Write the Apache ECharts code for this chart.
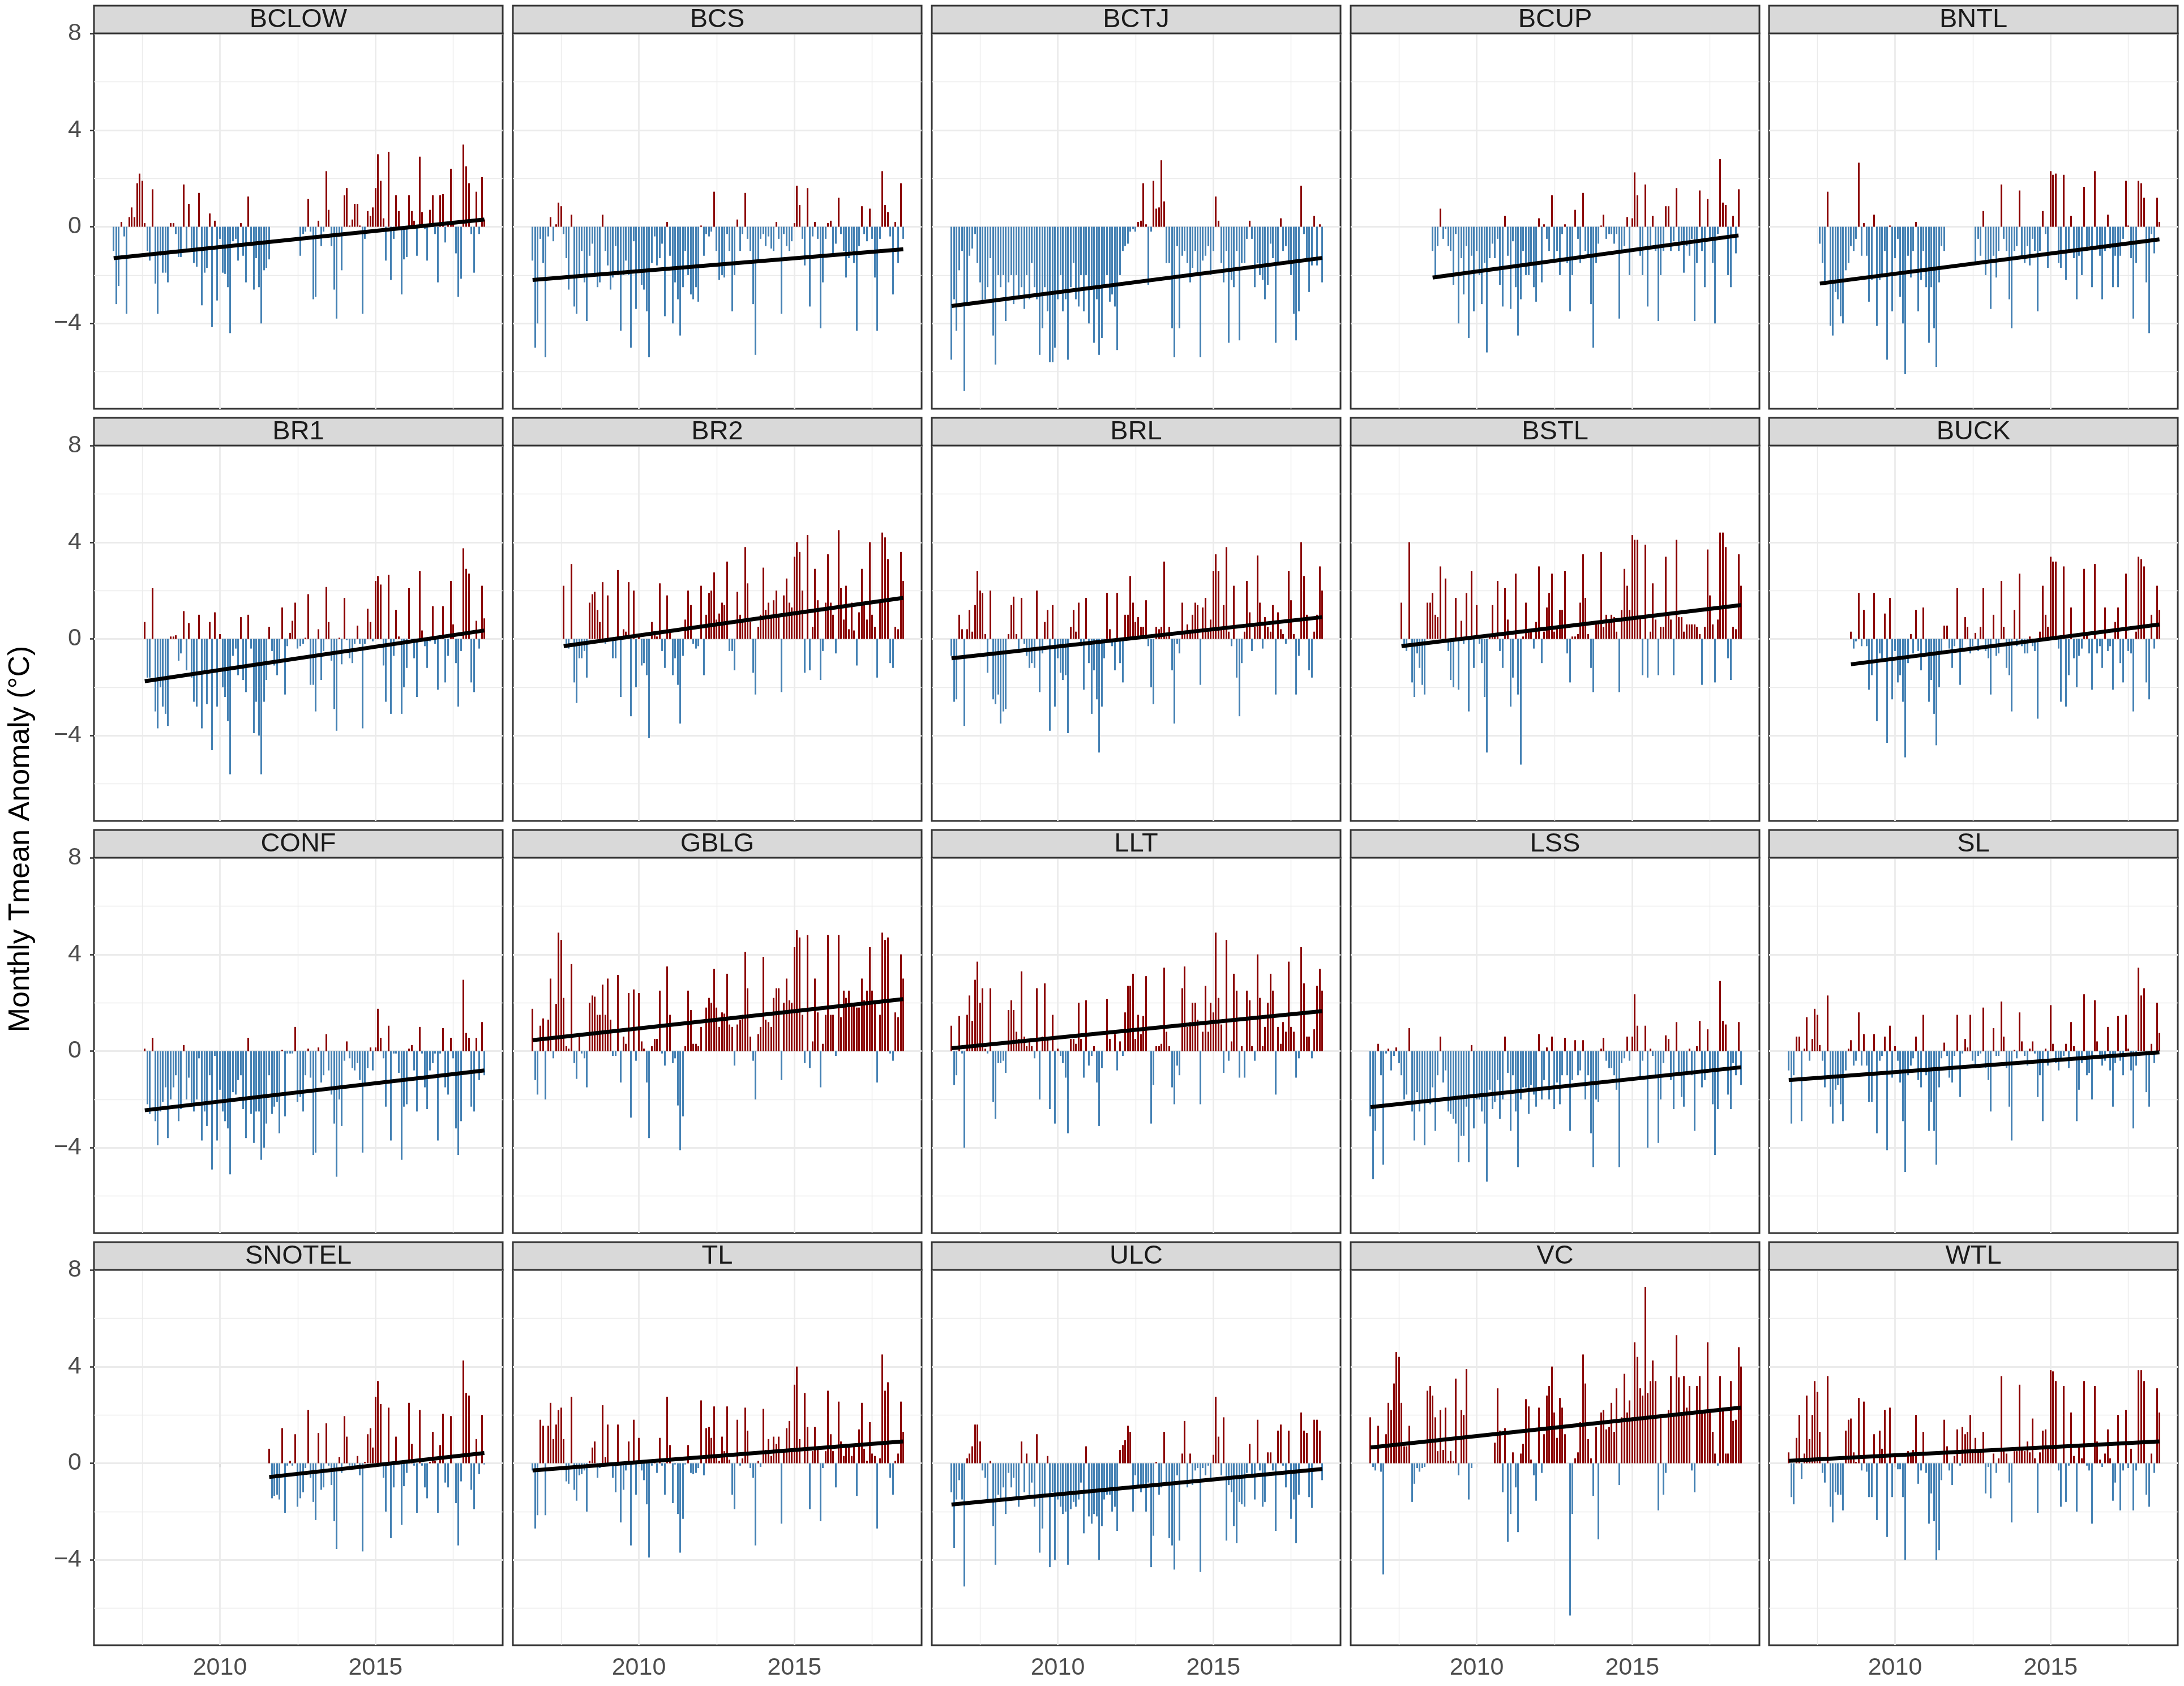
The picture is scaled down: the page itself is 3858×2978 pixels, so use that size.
<!DOCTYPE html>
<html>
<head>
<meta charset="utf-8">
<script src="https://cdn.jsdelivr.net/npm/echarts@6/dist/echarts.min.js"></script>
<style>
html,body{margin:0;padding:0;background:#fff}
#chart{width:3858px;height:2978px}
</style>
</head>
<body>
<div id="chart"></div>
<script>
// monthly Tmean anomaly per site, one value per month from the start month (null = missing)
const siteNames = ['BCLOW','BCS','BCTJ','BCUP','BNTL','BR1','BR2','BRL','BSTL','BUCK',
  'CONF','GBLG','LLT','LSS','SL','SNOTEL','TL','ULC','VC','WTL'];
const siteStart = ['2006-08','2006-08','2006-08','2008-08','2007-08','2007-08','2007-08','2006-08','2007-08','2008-08',
  '2007-08','2006-08','2006-08','2006-08','2006-08','2011-08','2006-08','2006-08','2006-08','2006-08'];
// fitted trend line, value at first and last month
const trendStart = [-1.3,-2.2,-3.28,-2.1,-2.35,-1.75,-0.3,-0.8,-0.3,-1.05,-2.45,0.45,0.12,-2.32,-1.2,-0.57,-0.3,-1.71,0.65,0.1];
const trendEnd = [0.3,-0.93,-1.29,-0.36,-0.52,0.35,1.7,0.9,1.4,0.6,-0.8,2.15,1.65,-0.67,-0.05,0.42,0.9,-0.24,2.3,0.9];

const yTicks = [-4, 0, 4, 8];
const yMinorTicks = [-6, -2, 2, 6];
const xTicks = [2010, 2015];
const xMinorTicks = [2007.5, 2012.5, 2017.5];

const BCLOW = [-1.0,-3.2,-2.45,0.2,-0.4,-3.6,0.4,0.8,0.4,1.8,2.2,1.9,0.15,-1.0,-1.4,1.55,-2.35,-3.6,-1.2,-1.9,
  -1.9,-2.3,0.15,0.15,-0.3,-1.25,-1.25,1.75,-0.9,0.95,-1.0,-1.5,-1.65,1.4,-3.25,-1.9,-1.7,0.55,-4.15,0.25,
  -3.05,-0.5,-1.9,-1.95,-2.5,-4.4,-0.6,-0.5,-1.4,0.15,-1.2,-2.3,1.25,-0.8,-2.6,-1.3,-2.5,-4.0,-1.8,-1.7,
  -1.35,null,null,null,null,null,null,null,null,null,null,null,
  -1.2,-0.3,-0.2,1.15,-0.2,-3.0,-2.9,0.25,-0.8,-0.2,2.3,0.7,-0.8,-2.6,-3.8,-0.3,-1.8,1.3,1.6,0.05,
  0.3,0.95,0.95,0.05,-3.6,-0.5,0.65,0.45,0.8,1.6,3.0,1.9,0.35,-1.4,3.1,-2.2,-0.5,1.3,0.65,-2.8,
  -1.35,-1.25,1.3,0.65,0.25,-1.2,2.9,0.6,-0.1,-1.4,0.7,1.3,-0.3,-2.3,1.3,1.35,-0.65,0.1,2.4,0.1,
  -1.1,-2.9,-2.15,3.4,2.5,1.8,-0.3,-1.9,1.45,-0.3,2.05,0.3];
const BCS = [-1.4,-5.0,-4.0,-0.5,-1.5,-5.4,-0.4,0.4,-0.6,0.1,1.0,0.85,-0.3,-1.3,-2.6,0.5,-3.3,-3.6,-2.0,-1.0,
  -2.3,-3.9,-1.2,-0.7,-2.0,-2.5,-2.3,0.5,-1.0,-1.6,-2.6,-2.1,-0.8,-2.0,-4.3,-2.0,-1.4,-2.0,-5.0,-0.6,
  -3.4,-1.8,-2.4,-2.6,-3.5,-5.4,-1.5,-0.4,-1.6,-1.3,-0.7,-3.7,0.2,-1.2,-4.0,-2.3,-3.0,-4.5,-2.5,-1.0,
  -2.0,-2.8,-3.0,-2.5,-3.1,0.05,-1.2,-0.3,-0.4,-0.2,1.45,-1.0,-2.2,-2.0,-2.1,-0.3,-1.0,-3.5,-2.0,0.3,
  -1.0,-0.3,1.4,-0.5,-1.0,-3.2,-5.3,-1.5,-0.5,-0.3,-0.8,-0.4,-0.9,-1.0,0.2,-0.5,-3.6,-0.3,-0.8,-1.0,
  -0.6,0.15,1.7,0.9,-0.5,-1.6,1.6,-3.3,-0.4,0.2,-0.5,-4.2,-2.3,-0.5,0.15,0.25,-1.2,-0.7,1.2,-0.3,
  -1.0,-2.1,-1.3,-1.0,-1.5,-4.3,-0.8,0.85,-0.3,-0.6,0.75,-0.5,-2.1,-4.3,-0.5,2.3,0.9,0.6,-0.4,-2.8,
  0.2,-1.5,1.8,-0.5];
const BCTJ = [-5.5,-3.0,-4.3,-1.8,-1.0,-6.8,-3.2,-1.2,-0.9,-0.3,-1.5,-2.3,-3.2,-3.0,-2.5,-1.3,-4.5,-5.7,-2.0,-2.5,
  -2.0,-3.9,-2.3,-2.0,-3.2,-2.0,-3.0,-2.5,-3.4,-2.0,-3.0,-1.5,-2.5,-3.0,-5.3,-4.2,-2.5,-3.5,-5.6,-5.6,
  -5.0,-3.0,-2.0,-3.5,-3.0,-5.5,-2.5,-1.5,-3.0,-3.3,-2.0,-3.5,-2.0,-4.0,-2.5,-4.8,-3.0,-5.3,-4.6,-2.5,
  -2.0,-3.1,-2.8,-3.3,-5.1,-2.0,-1.0,-0.8,-0.7,-0.2,-0.1,-0.2,0.2,0.25,1.8,0.1,-2.4,-0.2,1.9,0.75,
  0.8,2.75,1.05,-1.5,-1.5,-4.2,-5.4,-0.8,-4.2,-1.2,-1.0,-1.5,-2.3,-1.7,-1.0,-2.0,-5.4,-1.4,-1.2,-0.8,
  -2.0,-1.0,1.25,0.25,-1.5,-2.3,-1.0,-4.8,-2.2,-2.5,-1.0,-4.7,-1.5,-1.5,-0.5,0.25,-0.5,-2.5,-1.5,-2.0,
  -2.2,-3.0,-2.4,-0.7,-1.3,-4.8,-1.6,0.35,-1.0,-0.8,-1.5,-2.0,-3.6,-4.7,-3.5,1.7,-0.3,-1.3,-2.7,-1.6,
  0.45,-1.6,0.1,-2.3];
const BCUP = [-1.0,-2.0,-0.8,0.75,-0.5,-0.1,-0.8,-1.0,-2.4,-0.3,-4.0,-1.3,-2.8,-0.8,-4.6,-1.2,-3.5,-1.0,-2.0,-3.2,
  -1.5,-5.2,-1.3,-0.7,-1.3,-0.5,-2.4,-3.3,0.45,-1.2,-3.4,-0.6,-2.5,-4.5,-3.0,-1.0,-2.0,-2.0,-1.5,-2.5,
  -3.1,0.35,-2.3,0.1,-0.5,-1.0,1.3,-1.5,-1.0,-2.0,-0.3,0.1,-1.5,-3.5,-2.0,0.7,-0.5,-1.5,1.4,-1.0,
  -1.2,-3.2,-5.0,-1.5,-0.7,0.05,0.5,-0.5,-0.3,-0.3,-0.7,-0.3,-3.8,-1.0,-0.8,0.4,-2.0,0.35,2.25,1.3,
  -1.2,-2.0,1.75,-3.3,-0.8,0.45,-1.0,-3.9,-2.0,-1.0,0.85,0.85,-1.0,-0.6,1.6,-1.0,-0.7,-1.9,-0.8,-1.2,
  -0.5,-3.9,-1.5,1.5,-1.0,-2.5,1.15,-0.6,-1.5,-4.0,-0.3,2.8,1.0,0.9,-2.0,-2.5,0.45,-1.1,1.55];
const BNTL = [-0.7,-1.5,-2.4,1.45,-4.1,-4.5,-2.7,-3.0,-3.7,-4.0,-1.8,-1.5,-0.8,-1.0,-0.5,2.65,-1.2,0.15,-1.2,-3.1,
  -2.2,0.5,-4.1,-2.2,-2.1,-1.0,-5.5,0.05,-3.5,-1.3,-0.5,-2.9,-4.0,-6.1,-1.2,-2.1,-1.0,0.2,-3.5,-2.2,
  -1.0,-2.5,-4.8,-2.5,-4.2,-5.8,-2.3,-0.8,-1.0,null,null,null,null,null,null,null,null,null,null,null,
  -1.5,-0.5,-1.2,0.65,-2.0,-1.5,-3.4,-1.2,-2.1,-1.0,1.75,-0.5,-1.0,-3.0,-4.2,-1.0,-0.8,1.5,-1.2,-1.5,
  -0.8,-1.6,-0.5,-1.0,-3.5,-1.0,0.65,-0.3,-1.7,2.3,2.15,2.2,-1.5,-1.7,2.15,-2.2,-1.0,0.45,-1.3,-3.0,
  -1.2,-2.0,1.65,-1.0,-0.8,-2.5,2.3,-0.8,-1.2,-3.0,-1.0,0.5,-0.9,-2.5,-1.2,-2.5,-1.2,-0.5,1.9,0.05,
  -1.3,-3.8,-1.5,1.9,1.8,1.2,-2.3,-4.4,-0.3,-1.1,1.2,0.2];
const BR1 = [0.7,-1.6,-1.6,2.1,-3.0,-3.7,-2.0,-2.8,-3.1,-3.6,0.1,0.1,0.15,-0.9,-0.6,1.15,-1.3,0.65,-1.6,-2.6,
  -2.8,1.0,-3.7,-1.3,-2.7,0.7,-4.6,1.1,-2.8,0.2,-2.0,-2.4,-3.4,-5.6,-0.7,-0.4,-1.5,0.9,-1.7,-2.2,
  1.0,-0.4,-3.9,-2.6,-4.0,-5.6,-2.6,-1.7,0.5,-0.5,-1.1,-1.5,-1.0,1.3,-2.3,-0.3,0.25,0.75,1.5,-0.4,
  -0.3,-0.2,0.05,1.85,-1.9,-1.9,-3.0,0.4,-1.7,-0.5,2.15,0.7,-0.9,-2.9,-3.8,0.05,-1.05,1.7,-0.05,-0.8,
  -1.0,-0.2,0.55,-0.2,-3.7,-0.2,1.25,0.7,-0.1,2.4,2.6,2.25,-1.1,-2.6,2.65,-3.1,-0.7,1.2,0.1,-3.1,
  -2.0,-1.2,2.1,-0.1,-0.8,-2.4,2.8,0.35,-0.3,-1.2,-0.1,1.35,-0.2,-2.1,0.1,1.35,-1.8,-0.7,2.4,0.6,
  -1.0,-2.8,-0.5,3.75,2.9,2.7,-1.8,-2.2,0.75,-0.4,2.2,0.85];
const BR2 = [2.2,-0.3,-0.4,3.1,-1.8,-2.65,-0.8,-0.8,-0.5,-1.6,1.5,1.85,1.95,1.2,0.7,2.35,-0.2,1.8,-0.1,-0.8,
  -0.8,2.85,-2.4,0.4,0.3,2.35,-3.2,2.0,-2.0,0.2,-1.1,-1.0,-1.5,-4.1,0.7,0.3,0.1,2.3,-0.5,-1.2,
  1.8,0.3,-1.5,-0.8,-1.9,-3.5,-0.7,0.8,2.0,1.4,-0.2,-0.4,-0.3,2.2,-1.5,1.0,1.9,2.0,2.75,0.8,
  1.05,1.5,1.4,3.2,-0.5,-0.5,-1.3,1.95,1.0,0.7,3.8,2.3,0.7,-1.4,-2.3,0.5,1.0,2.95,1.2,1.5,
  1.0,1.6,2.0,1.0,-2.2,1.8,2.5,1.5,1.3,3.4,4.0,3.6,2.0,-1.4,4.3,-1.3,0.5,2.9,1.6,-1.7,
  -0.5,1.5,3.5,1.5,1.0,-0.6,4.5,2.1,0.8,2.2,0.4,1.5,0.35,-1.1,1.1,2.9,1.5,0.8,4.0,1.0,
  0.5,-1.6,1.6,4.4,4.2,3.3,-1.0,-1.2,0.5,0.4,3.6,2.4];
const BRL = [-0.7,-2.6,-2.5,1.0,0.4,-3.6,0.4,1.2,0.3,1.4,2.8,2.0,1.9,0.2,-1.4,2.0,-2.5,-2.7,-2.3,-3.5,
  -3.0,-2.9,0.2,1.4,1.75,0.2,-0.5,1.7,-0.2,-0.7,-1.2,-1.0,-1.2,2.0,-2.2,-0.6,0.7,1.2,-3.8,1.4,
  -2.8,-0.8,-1.4,-1.7,-1.5,-3.9,0.5,1.2,0.3,1.5,-0.3,-2.1,1.7,-1.0,-3.1,-1.3,-2.5,-4.7,-2.8,-0.8,
  1.9,0.4,-0.3,-1.3,1.9,-1.0,-1.8,1.0,1.0,2.6,1.5,0.7,0.9,0.5,0.5,1.6,-0.3,-2.0,-2.7,0.5,
  0.4,0.5,3.2,0.1,0.5,-1.3,-3.5,-0.2,-0.6,1.5,0.2,0.6,0.3,1.0,1.5,1.4,-1.9,1.3,1.7,0.3,
  0.8,2.8,3.5,2.8,0.5,1.4,3.8,0.3,-0.3,2.2,-1.6,-3.2,-1.0,0.3,2.4,1.1,-0.5,0.5,3.45,1.5,
  -0.4,0.9,0.5,0.3,1.4,-2.3,1.1,0.4,0.2,-0.2,2.8,1.6,0.2,-2.3,-0.7,4.0,2.6,1.0,-1.3,-1.6,
  0.3,1.0,3.0,2.0];
const BSTL = [1.5,-0.3,-0.5,4.0,-1.8,-2.4,-0.6,-1.2,-1.9,-2.3,1.5,1.5,1.9,1.0,0.9,3.0,-0.1,2.5,-0.5,-1.7,
  -2.0,1.7,-2.1,0.75,-0.2,1.9,-3.0,2.8,-1.2,1.4,-0.2,-1.0,-2.4,-4.7,0.2,1.4,0.2,2.4,-0.5,-1.2,
  2.1,0.8,-2.8,-1.6,2.7,-2.3,-5.2,0.1,1.5,0.3,0.3,-0.4,0.7,3.0,-1.0,0.3,1.3,1.9,2.7,0.3,
  0.5,1.2,1.2,2.8,-0.6,-1.8,0.1,0.1,0.2,1.5,3.5,1.7,0.2,-1.2,-2.2,0.6,0.6,3.6,0.5,1.0,
  0.8,1.0,0.9,0.3,-2.2,1.2,2.9,2.2,1.2,4.3,4.1,4.1,0.9,-1.5,3.9,-1.6,0.3,2.3,0.8,-1.5,
  0.5,0.5,3.4,1.0,0.8,-1.5,4.1,0.9,0.9,0.3,0.6,0.6,0.6,0.6,0.5,0.2,-1.9,0.5,3.7,1.8,
  0.6,-1.8,0.8,4.4,4.4,3.8,-0.8,-1.7,0.5,0.4,3.5,2.2];
const BUCK = [0.3,-0.4,-0.1,1.9,-0.3,1.2,-0.3,-2.1,-1.5,1.9,-3.4,-0.6,-0.8,1.05,-4.3,1.7,-2.5,-0.5,-1.8,-1.5,
  -2.6,-4.9,-1.0,0.2,-0.6,1.2,-0.5,-1.3,1.3,-0.7,-2.6,-1.7,-3.1,-4.4,-2.0,-0.5,0.55,0.55,-0.4,-1.2,
  -0.3,2.1,-1.9,-0.5,0.9,0.5,-0.6,-0.3,0.25,-0.5,0.5,2.1,-0.5,-0.8,-2.3,1.0,-0.7,-0.6,2.4,0.5,
  -1.2,-1.5,-3.0,1.2,-0.3,2.7,-0.3,-0.6,-0.6,0.1,-0.3,-0.5,-3.3,0.3,2.2,1.0,0.5,3.4,3.2,3.2,
  -0.4,-2.6,3.0,-2.8,-1.5,1.3,-0.8,-2.0,-0.7,-0.4,2.9,0.2,-0.6,-2.1,3.1,-0.6,-0.3,-1.2,1.3,-0.5,
  -0.3,-2.1,0.7,1.3,-1.0,-1.8,2.7,-0.5,-0.6,-3.0,0.3,3.4,3.3,3.0,-1.8,-2.5,1.0,-0.4,2.2,1.2];
const CONF = [0.1,-2.2,-2.6,0.55,-2.9,-3.9,-2.5,-2.1,-1.5,-3.6,-2.0,-1.5,-1.0,-2.9,-2.4,0.25,-2.0,-1.1,-2.3,-2.5,
  -2.0,-0.3,-3.7,-2.5,-3.1,-1.0,-4.9,-0.2,-3.7,-1.6,-2.5,-2.9,-3.2,-5.1,-1.7,-1.8,-1.2,-1.0,-2.4,-3.6,
  0.55,-2.6,-3.8,-2.5,-2.5,-4.5,-4.0,-3.0,-1.0,-2.6,-2.3,-2.1,-3.4,0.05,-2.7,-0.1,-0.1,-0.1,1.0,-2.1,
  -1.9,-2.5,-1.0,0.1,-1.1,-4.3,-4.2,0.15,-1.3,-1.0,0.7,-0.8,-1.8,-3.0,-5.2,-2.0,-3.1,-0.4,0.4,-0.3,
  -0.7,-0.8,-0.5,-1.2,-4.2,-1.3,-0.7,0.15,-0.8,0.15,1.75,0.55,-0.3,-2.3,1.05,-3.7,-0.1,-0.1,-0.9,-4.5,
  -2.3,-2.2,0.1,0.25,-0.8,-2.5,1.0,-0.1,-1.5,-2.4,-0.8,-0.5,-0.1,-3.7,-0.1,0.95,-1.5,-1.8,0.55,-0.3,
  -3.2,-4.3,-2.9,2.95,0.75,0.55,-2.3,-2.5,0.55,-1.2,1.2,-1.0];
const GBLG = [1.75,-1.2,-1.8,1.05,1.35,-2.0,1.3,3.0,-0.3,1.95,4.9,4.6,2.2,0.2,0.1,3.6,-0.5,-1.15,0.7,-0.1,
  -0.3,-1.5,2.0,2.3,2.25,1.5,1.5,2.75,1.5,3.0,1.3,-0.2,-0.2,3.15,-1.3,0.6,0.3,2.4,-2.75,2.55,
  -0.4,2.4,0.4,0.1,-1.3,-3.6,0.2,0.5,0.5,2.5,-0.1,-0.6,3.5,1.5,-0.5,-0.3,-2.25,-4.1,-2.7,0.2,
  2.5,1.7,0.3,0.3,0.2,1.0,0.0,1.8,2.2,2.0,3.4,1.8,1.0,1.6,1.55,3.2,1.1,1.0,-0.6,1.1,
  1.3,1.5,4.1,2.6,0.6,-0.4,-2.0,0.7,1.0,3.9,1.3,1.2,1.0,2.2,2.6,2.6,-1.2,2.0,3.0,2.1,
  2.0,4.3,5.0,4.7,1.5,-0.5,4.8,-0.7,0.4,3.0,1.6,-1.5,0.3,1.5,4.8,1.5,1.5,-0.2,4.8,1.4,
  2.5,2.2,2.5,2.0,1.9,1.8,1.8,3.0,2.1,2.5,4.3,2.5,2.0,-1.3,1.5,4.9,4.6,4.7,-0.1,-0.4,
  1.6,1.4,4.0,3.0];
const LLT = [1.05,-1.4,-1.0,1.45,-0.1,-4.0,1.5,2.3,1.25,2.95,3.7,2.0,2.6,0.1,-0.1,2.6,-2.1,-2.8,-0.5,-0.5,
  -0.4,-0.9,1.7,2.1,1.7,0.8,0.5,3.3,0.6,0.2,0.5,0.2,-0.3,2.6,-2.0,0.6,2.8,0.5,-2.4,1.5,
  -3.0,0.1,-0.2,-0.5,-1.1,-3.4,0.5,0.5,0.3,2.0,0.5,-1.1,2.1,-0.6,-0.2,0.2,-1.3,-3.1,-0.7,0.0,
  2.15,0.5,0.0,0.7,-0.8,0.4,-0.2,1.6,2.7,2.7,3.2,0.5,1.5,0.7,1.45,3.1,0.0,-3.0,-1.4,0.2,
  0.2,0.3,3.45,0.8,0.2,-1.5,-2.2,-0.6,-1.0,2.6,3.5,1.0,1.2,2.0,2.0,1.3,-2.2,0.8,2.7,0.8,
  2.0,1.6,4.9,2.2,1.1,-0.9,4.6,-0.4,0.4,3.2,2.5,-1.1,0.2,-1.1,2.5,2.1,0.2,-0.4,4.0,2.2,
  0.2,1.0,2.0,3.2,2.5,-1.8,1.0,0.3,1.2,0.8,3.7,1.0,0.8,-1.1,-0.3,4.3,2.8,0.6,0.6,-0.3,
  0.9,2.7,3.4,2.5];
const LSS = [-2.7,-5.3,-3.3,0.3,-1.0,-4.7,-0.1,0.1,-0.8,-0.2,0.15,-0.5,-1.0,-2.0,-1.8,0.95,-2.5,-3.7,-1.7,-2.5,
  -2.1,-3.9,-2.0,-2.2,-1.5,-3.3,-1.0,0.6,-1.3,-0.8,-2.5,-2.6,-2.8,-3.0,-4.6,-3.5,-3.5,-2.3,-4.6,0.25,
  -3.2,-2.0,-2.0,-2.5,-3.0,-5.4,-1.6,-2.4,-2.1,-1.2,-2.8,-2.0,0.6,-0.9,-3.3,-1.0,-2.5,-4.8,-2.0,-1.5,
  -1.5,-2.6,-1.4,-1.8,-2.3,0.7,-2.0,-1.2,0.15,-2.0,0.6,-2.4,-1.3,-2.2,-1.0,0.55,-1.0,-3.3,-1.2,0.45,
  -1.0,-0.8,0.45,-2.0,-1.0,-3.4,-4.8,-2.0,-2.1,0.1,0.55,-0.4,-0.7,-0.7,-1.0,-1.6,-4.8,-0.5,-0.3,0.6,
  -0.4,0.6,2.35,1.05,-1.2,-0.4,1.05,-4.0,0.1,-0.2,-1.0,-3.8,-2.0,-0.5,0.65,0.5,-1.2,-2.4,1.2,-1.0,
  -1.9,-2.3,-1.0,0.1,-1.0,-3.3,0.2,1.25,-1.5,-1.2,0.9,-0.8,-2.2,-4.3,-2.4,2.9,1.25,1.1,-1.8,-2.4,
  -0.5,-1.0,1.2,-1.4];
const SL = [-0.8,-3.0,-1.0,0.6,0.6,-2.9,0.1,1.4,-0.4,0.5,1.75,1.5,0.25,-0.4,-1.5,2.3,-2.3,-3.0,-1.6,-1.4,
  -2.2,-2.9,-0.8,0.1,0.45,-0.6,-0.4,1.6,-0.6,0.7,-0.6,-2.1,-2.1,0.7,-3.4,-0.4,-0.2,0.6,-4.1,1.05,
  -1.1,0.2,-0.4,-1.3,-2.9,-5.0,-1.0,-0.6,-0.3,0.6,-1.2,-1.5,1.5,-1.0,-3.3,-2.1,-3.3,-4.7,-1.5,-0.3,
  0.35,-0.2,-1.1,-1.3,-0.2,1.5,-1.9,-0.1,0.5,0.15,1.5,-0.4,-0.6,-0.2,-0.1,1.8,-0.7,-1.2,-2.5,0.95,
  -0.2,-0.2,2.05,0.6,-0.7,-2.3,-3.7,0.05,-0.3,1.6,0.4,-0.2,-0.6,0.1,0.4,-0.1,-1.9,-1.0,-2.9,0.1,
  -0.6,1.9,0.3,-0.5,-0.8,-0.3,-0.2,0.3,-0.7,1.2,0.2,-2.9,-1.6,-0.5,2.35,-1.0,-0.9,-2.0,2.1,0.4,
  -0.3,-0.6,-0.4,1.0,-0.8,-2.3,-0.5,1.45,-0.4,-1.0,1.5,0.1,-0.8,-3.2,-0.6,3.45,2.3,2.6,-1.7,-2.3,
  0.3,-0.5,2.0,0.75];
const SNOTEL = [0.6,-1.45,-1.35,-1.3,-1.5,1.45,-2.05,-0.1,0.1,-0.1,1.2,-1.8,-1.45,-1.2,-0.2,2.2,-0.6,-1.6,-2.35,1.25,
  -1.1,-1.0,1.65,-0.1,-0.9,-2.4,-3.55,0.25,-0.4,1.95,1.1,-0.1,-0.2,-0.2,0.3,-0.5,-3.65,0.05,1.2,1.45,
  0.65,2.75,3.4,2.45,-0.6,-2.0,2.3,-3.1,-1.0,1.1,-0.05,-2.55,-0.95,-0.4,2.5,0.8,-0.1,-2.05,2.2,-0.1,
  -1.0,-1.45,0.05,1.3,0.1,-2.05,0.75,2.05,-0.8,-1.0,1.95,0.0,-1.65,-3.4,-0.75,4.25,2.9,2.8,-1.1,-1.9,
  1.0,-0.45,2.0,-0.05];
const TL = [-0.3,-2.7,-2.15,1.8,1.55,-2.15,1.55,2.5,1.0,1.6,2.2,2.3,1.0,-0.75,-0.85,2.75,-1.1,-1.55,-0.5,-0.45,
  -0.3,-2.0,0.1,0.65,0.9,-0.6,-0.2,2.4,0.25,1.6,-0.1,-0.6,-1.2,1.6,-2.45,-1.1,-0.3,0.9,-3.4,1.8,
  -1.3,1.05,-0.3,-0.7,-1.7,-3.9,-0.1,0.05,-0.4,1.05,-0.1,-1.3,2.75,0.75,-1.65,-0.05,-2.1,-3.7,-2.3,-0.05,
  0.75,-0.4,-0.45,-0.4,-0.2,2.6,-0.5,1.45,1.5,1.05,2.35,0.3,0.1,1.1,0.5,2.35,0.15,-1.3,-1.9,1.8,
  -0.1,0.2,2.3,1.35,-0.2,-0.6,-3.4,0.1,-0.15,2.25,0.55,1.0,0.3,1.1,0.8,1.1,-2.5,0.45,1.45,1.75,
  0.5,3.25,4.0,1.0,0.0,2.9,1.5,-1.9,0.5,1.5,0.6,-2.4,-0.2,0.5,3.0,1.2,0.5,-1.0,2.55,0.9,
  0.3,0.8,0.8,0.3,0.8,-1.35,1.4,2.5,0.6,0.1,1.7,0.4,0.3,-2.7,0.2,4.5,3.0,3.35,-0.6,-1.3,
  0.1,0.4,2.55,1.3];
const ULC = [-1.2,-3.5,-1.5,-0.7,-1.5,-5.1,0.2,0.4,0.7,1.6,1.6,0.9,-0.3,-0.6,-1.5,0.1,-2.6,-4.2,-1.3,-1.5,
  -1.0,-2.1,-0.4,-1.0,-0.6,-1.4,-1.8,0.9,-1.2,0.4,-1.3,-0.8,-1.8,1.2,-3.7,-2.7,-1.3,0.3,-4.3,-1.2,
  -4.0,-1.5,-1.8,-2.1,-2.0,-4.2,-1.9,-1.6,-1.8,-1.5,-0.8,-2.9,0.7,-2.2,-2.5,-2.1,-2.2,-4.0,-2.6,-1.5,
  -1.3,-1.3,-2.0,-1.8,-2.8,0.55,0.75,0.95,1.55,1.3,-2.0,-0.5,-1.0,-1.2,-1.0,-2.0,-0.8,-4.3,-3.0,0.05,
  -1.3,-1.0,1.3,-0.8,-3.1,-3.4,-4.4,-0.5,-3.2,0.4,1.75,-1.0,0.4,-0.9,-0.3,-0.2,-4.5,-0.2,-0.5,-0.1,
  -0.6,0.35,2.75,1.1,-0.5,1.9,-3.2,-0.9,-1.2,-2.6,-3.3,-1.6,-1.7,-1.8,-0.4,0.8,-0.5,-1.5,1.8,-0.3,
  -1.8,-1.6,0.45,0.45,-0.3,-2.8,1.35,1.6,-0.1,-1.0,1.35,-2.3,-1.5,-3.3,-1.3,2.1,1.35,1.25,-1.4,-1.85,
  1.8,1.8,1.35,-0.7];
const VC = [1.9,-0.15,-0.3,1.55,-0.35,-4.6,1.2,2.5,2.2,3.3,4.6,4.4,2.5,0.7,0.7,1.55,-1.6,-0.85,-0.2,-0.35,
  -0.2,-0.15,3.0,3.2,2.8,1.9,0.5,2.2,0.55,2.3,0.1,0.5,0.1,3.5,-0.5,2.2,2.0,3.9,-1.5,-0.2,
  null,null,null,null,null,null,null,null,0.85,3.1,1.35,-1.2,1.45,-3.25,-2.1,0.45,-1.0,-2.85,0.4,0.8,
  2.65,2.35,0.15,-0.5,-1.55,2.3,-0.4,1.2,2.8,3.2,4.0,2.1,1.05,2.7,2.3,1.2,0.0,-6.3,-2.1,0.2,
  0.45,1.7,4.5,3.3,1.0,0.2,-1.35,1.5,-3.15,2.1,2.2,1.4,1.5,2.5,1.3,3.1,-0.9,1.9,3.7,2.1,
  2.6,1.9,5.0,4.4,3.1,2.8,7.3,2.9,3.4,4.25,3.4,-1.95,2.0,-1.3,-0.4,2.2,3.6,2.0,5.3,3.55,
  2.0,3.6,2.3,3.2,-0.3,-1.2,3.2,3.6,2.2,2.1,5.0,2.2,1.3,0.4,-0.1,3.6,2.2,0.4,0.4,3.4,
  1.75,1.8,4.8,4.0];
const WTL = [0.45,-1.4,-1.7,1.05,2.0,-0.65,0.4,2.8,1.0,2.0,3.4,2.95,1.3,-0.4,-0.8,3.6,-1.8,-2.45,-1.2,-1.3,
  -1.3,-1.95,1.35,1.8,1.85,0.45,0.05,2.7,-0.3,2.55,-0.35,-1.4,-1.4,1.2,-2.35,1.35,0.6,2.2,-3.05,2.3,
  -1.4,0.3,-0.25,-0.25,-1.4,-4.0,0.5,0.3,0.55,2.0,-0.85,-0.3,1.3,-0.4,-2.5,-1.25,-2.4,-4.0,-3.6,-0.7,
  1.8,0.7,-0.3,-0.9,0.3,1.4,-0.1,1.5,1.2,1.3,2.0,0.5,1.05,0.45,0.6,1.3,-1.25,-0.15,-1.45,0.4,
  -0.4,0.2,3.6,0.5,0.4,-0.8,-2.45,0.5,0.5,3.25,0.6,0.5,0.9,0.45,1.85,0.2,-2.05,0.45,1.35,1.4,
  0.7,3.85,3.8,3.4,-0.3,-1.8,3.2,-1.6,-0.1,2.1,0.3,-2.0,0.8,0.2,3.4,-0.1,-0.3,-2.5,3.2,0.9,
  0.15,-0.15,0.4,1.4,0.2,-1.55,-0.8,2.0,-1.95,-0.3,2.2,-0.2,0.6,-1.95,-0.3,3.85,3.85,3.4,-1.3,-1.8,
  0.4,-0.4,3.1,2.1];

const siteValues = [BCLOW,BCS,BCTJ,BCUP,BNTL,BR1,BR2,BRL,BSTL,BUCK,CONF,GBLG,LLT,LSS,SL,SNOTEL,TL,ULC,VC,WTL];

// layout (pixels) and axis ranges
const FONT = '"Liberation Sans", Arial, Helvetica, sans-serif';
const POS_COLOR = '#8B0000', NEG_COLOR = '#4682B4';
const X_MIN = 2005.95, X_MAX = 2019.09, Y_MIN = -7.53, Y_MAX = 8.0;
const COL_LEFT = [166, 906, 1646, 2386, 3125];
const ROW_TOP = [59, 787, 1515, 2243];
const PANEL_W = 722, PANEL_H = 663, STRIP_H = 49;
const BAR_PX = 3;

function monthX(start, i) {
	const parts = start.split('-');
	return Number(parts[0]) + (Number(parts[1]) - 1 + i) / 12;
}

function gridLines() {
	let d = [];
	yTicks.forEach(v => d.push({yAxis: v, lineStyle: {color: '#EBEBEB', width: 2.8, type: 'solid'}}));
	yMinorTicks.forEach(v => d.push({yAxis: v, lineStyle: {color: '#EBEBEB', width: 1.4, type: 'solid'}}));
	xTicks.forEach(v => d.push({xAxis: v, lineStyle: {color: '#EBEBEB', width: 2.8, type: 'solid'}}));
	xMinorTicks.forEach(v => d.push({xAxis: v, lineStyle: {color: '#EBEBEB', width: 1.4, type: 'solid'}}));
	return d;
}

// one crisp column per month, positioned through the axis scales
function renderBar(params, api) {
	const x = api.value(0), v = api.value(1);
	const base = api.coord([x, 0]), tip = api.coord([x, v]);
	const x0 = Math.round(base[0] - BAR_PX / 2);
	return {
		type: 'rect',
		shape: {x: x0, y: Math.min(base[1], tip[1]), width: BAR_PX, height: Math.abs(tip[1] - base[1])},
		style: {fill: v >= 0 ? POS_COLOR : NEG_COLOR}
	};
}

let grids = [], xAxes = [], yAxes = [], series = [], graphics = [];

siteNames.forEach(function (name, k) {
	const row = Math.floor(k / 5), col = k % 5;
	const left = COL_LEFT[col], top = ROW_TOP[row];
	const isLeft = col === 0, isBottom = row === 3;

	grids.push({left: left, top: top, width: PANEL_W, height: PANEL_H, show: true,
		backgroundColor: '#fff', borderColor: '#333333', borderWidth: 3,
		containLabel: false, outerBoundsMode: 'none'});

	xAxes.push({gridIndex: k, type: 'value', min: X_MIN, max: X_MAX,
		axisLine: {show: false}, splitLine: {show: false},
		axisTick: {show: isBottom, customValues: xTicks, length: 7, lineStyle: {color: '#333333', width: 2.5}},
		axisLabel: {show: isBottom, customValues: xTicks, fontSize: 43, color: '#4D4D4D', fontFamily: FONT, margin: 19,
			formatter: v => String(v)}});

	yAxes.push({gridIndex: k, type: 'value', min: Y_MIN, max: Y_MAX,
		axisLine: {show: false}, splitLine: {show: false},
		axisTick: {show: isLeft, customValues: yTicks, length: 7, lineStyle: {color: '#333333', width: 2.5}},
		axisLabel: {show: isLeft, customValues: yTicks, fontSize: 43, color: '#4D4D4D', fontFamily: FONT, margin: 22,
			formatter: v => String(v).replace('-', '\u2212')}});

	// background grid lines
	series.push({type: 'line', xAxisIndex: k, yAxisIndex: k, data: [], silent: true, z: 1,
		markLine: {silent: true, z: 1, symbol: ['none', 'none'], label: {show: false}, animation: false, data: gridLines()}});

	const vals = siteValues[k], start = siteStart[k];
	let bars = [];
	vals.forEach(function (v, i) {
		if (v !== null) bars.push([monthX(start, i), v]);
	});
	series.push({type: 'custom', name: name, xAxisIndex: k, yAxisIndex: k, data: bars, z: 3,
		encode: {x: 0, y: 1}, animation: false, renderItem: renderBar});

	series.push({type: 'line', xAxisIndex: k, yAxisIndex: k, z: 4, symbol: 'none', animation: false,
		data: [[monthX(start, 0), trendStart[k]], [monthX(start, vals.length - 1), trendEnd[k]]],
		lineStyle: {color: '#000', width: 7, cap: 'butt'}});

	// facet strip
	graphics.push({type: 'rect', z: 10, shape: {x: left, y: top - STRIP_H, width: PANEL_W, height: STRIP_H},
		style: {fill: '#D9D9D9', stroke: '#333333', lineWidth: 3}});
	graphics.push({type: 'text', z: 11, x: left + PANEL_W / 2, y: top - STRIP_H / 2 + 1,
		style: {text: name, font: '47px ' + FONT, fill: '#1A1A1A', textAlign: 'center', textVerticalAlign: 'middle'}});
});

graphics.push({type: 'text', z: 11, x: 37, y: 1482, rotation: Math.PI / 2,
	style: {text: 'Monthly Tmean Anomaly (\u00B0C)', font: '52px ' + FONT, fill: '#000',
		textAlign: 'center', textVerticalAlign: 'middle'}});

let chart = echarts.init(document.getElementById('chart'));
chart.setOption({
	animation: false,
	backgroundColor: '#fff',
	grid: grids,
	xAxis: xAxes,
	yAxis: yAxes,
	series: series,
	graphic: graphics
});
</script>
</body>
</html>
